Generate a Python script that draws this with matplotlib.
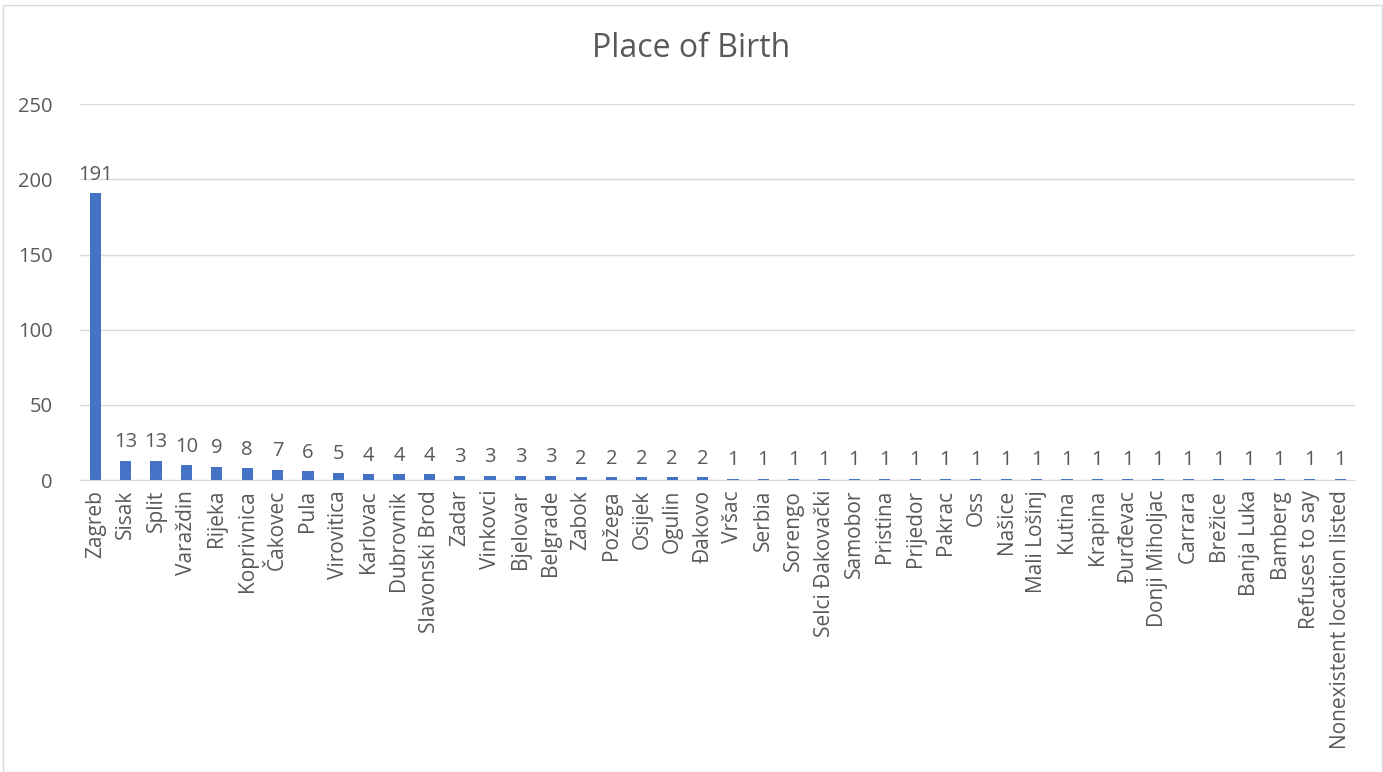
import numpy as np
import matplotlib; matplotlib.use('Agg')
import matplotlib.pyplot as plt

places = ["Zagreb", "Sisak", "Split", "Varaždin", "Rijeka", "Koprivnica", "Čakovec",
          "Pula", "Virovitica", "Karlovac", "Dubrovnik", "Slavonski Brod", "Zadar",
          "Vinkovci", "Bjelovar", "Belgrade", "Zabok", "Požega", "Osijek", "Ogulin",
          "Đakovo", "Vršac", "Serbia", "Sorengo", "Selci Đakovački", "Samobor",
          "Pristina", "Prijedor", "Pakrac", "Oss", "Našice", "Mali Lošinj", "Kutina",
          "Krapina", "Đurđevac", "Donji Miholjac", "Carrara", "Brežice", "Banja Luka",
          "Bamberg", "Refuses to say", "Nonexistent location listed"]
counts = [191, 13, 13, 10, 9, 8, 7, 6, 5, 4, 4, 4, 3, 3, 3, 3, 2, 2, 2, 2,
          2, 1, 1, 1, 1, 1, 1, 1, 1, 1, 1, 1, 1, 1, 1, 1, 1, 1, 1, 1, 1, 1]

plt.rcParams['font.family'] = ['Open Sans', 'DejaVu Sans']
txt = '#595959'
fs = 14.5

fig = plt.figure(figsize=(13.83, 7.72), dpi=100)
fig.patches.append(plt.Rectangle((0.002, 0.0), 0.997, 0.993, transform=fig.transFigure,
                                 fill=False, edgecolor='#D9D9D9', linewidth=1.0))
ax = fig.add_axes([0.058, 0.378, 0.922, 0.487])

x = np.arange(len(places))
bars = ax.bar(x, counts, width=0.37, color='#4472C4', zorder=3)
for xi, v in zip(x, counts):
    ax.annotate(str(v), (xi, v), xytext=(0, 6), textcoords='offset points',
                ha='center', va='bottom', fontsize=fs, color=txt)

ax.set_xlim(-0.5, len(places) - 0.5)
ax.set_ylim(0, 250)
ax.set_yticks(np.arange(0, 251, 50))
ax.grid(axis='y', color='#D9D9D9', linewidth=1.0, zorder=0)
for s in ['top', 'right', 'left']:
    ax.spines[s].set_visible(False)
ax.spines['bottom'].set_color('#D9D9D9')
ax.tick_params(axis='both', length=0, colors=txt, labelsize=fs)
ax.tick_params(axis='x', labelsize=15, pad=7)
ax.tick_params(axis='y', pad=20)
ax.set_xticks(x)
ax.set_xticklabels(places, rotation=90)

fig.text(0.5, 0.937, "Place of Birth", ha='center', va='center', fontsize=23, color=txt)

fig.savefig("out.png", dpi=100)
